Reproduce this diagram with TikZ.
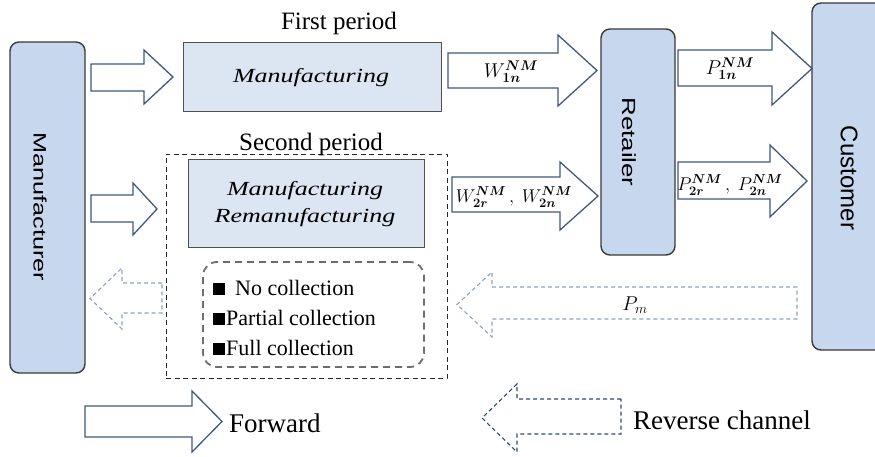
\RequirePackage{fix-cm}
\documentclass[tikz,border=0pt]{standalone}
\usepackage{amsmath}
\usepackage{fontspec}
\usepackage{graphicx}
\setmainfont{Liberation Serif}
\setsansfont{Liberation Sans}
\definecolor{boxfill}{HTML}{C6D7EE}
\definecolor{boxline}{HTML}{3A3A3A}
\definecolor{mffill}{HTML}{DCE6F2}
\definecolor{mfline}{HTML}{505050}
\definecolor{fwline}{HTML}{41597F}
\definecolor{revlight}{HTML}{8EA3BF}
\definecolor{revdark}{HTML}{2F4B75}
\definecolor{collline}{HTML}{6E6E6E}
\newcommand{\setfs}[1]{\fontsize{#1}{#1}\selectfont}
\newcommand{\sqmark}{\rule[0.5pt]{12pt}{12pt}}
% #1 style, #2 x tail, #3 x head base, #4 x tip, #5 y shaft top, #6 y shaft bottom, #7 y head top, #8 y head bottom
\newcommand{\blockarr}[8][]{%
  \draw[#1] (#2,#5) -- (#3,#5) -- (#3,#7) -- (#4,{(#7+#8)/2}) -- (#3,#8) -- (#3,#6) -- (#2,#6) -- cycle;}
\tikzset{
  actor/.style={draw=boxline, fill=boxfill, line width=1.4pt, rounded corners=9pt, inner sep=0pt},
  mfbox/.style={draw=mfline, fill=mffill, line width=1pt, inner sep=0pt},
  fwarrow/.style={draw=fwline, fill=white, line width=1.3pt, line join=miter},
  revarrowl/.style={draw=revlight, line width=1.1pt, dash pattern=on 4pt off 3pt},
  revarrowd/.style={draw=revdark, line width=1.1pt, dash pattern=on 4pt off 3pt},
  lbl/.style={inner sep=0pt},
  mathlbl/.style={inner sep=0pt, font=\setfs{20}},
  pairlbl/.style={inner sep=0pt, font=\setfs{18.5}},
}
\begin{document}
\begin{tikzpicture}[x=1pt,y=-1pt]
\useasboundingbox (0,0) rectangle (875,457);
\clip (0,0) rectangle (875,457);
\fill[white] (0,0) rectangle (875,457);

% actors
\node[actor, minimum width=75pt, minimum height=331pt] (man) at (47.5,207.5) {};
\node[lbl, rotate=-90, font=\sffamily\setfs{18}] (manl) at (40,207) {\scalebox{1.4}[1]{Manufacturer}};
\node[actor, minimum width=74pt, minimum height=226pt] (ret) at (638,142) {};
\node[lbl, rotate=-90, font=\sffamily\setfs{19}] (retl) at (629,142) {\scalebox{1.36}[1]{Retailer}};
\node[actor, minimum width=90pt, minimum height=347pt] (cus) at (857,176.5) {};
\node[lbl, rotate=-90, font=\sffamily\setfs{24}] (cusl) at (849,178) {Customer};

% second period dashed frame
\node[draw=black!85, line width=0.9pt, dash pattern=on 5pt off 3.5pt, minimum width=281pt, minimum height=224pt, inner sep=0pt] (sp) at (306.5,266) {};
\node[lbl, anchor=base, font=\setfs{25}] (spl) at (311,151) {Second period};
\node[lbl, anchor=base, font=\setfs{25}] (fpl) at (339,30) {First period};

% manufacturing boxes
\node[mfbox, minimum width=258pt, minimum height=69pt] (mf1) at (312,77.5) {};
\node[lbl, font=\rmfamily\itshape\setfs{20}] (mf1t) at (311,78) {\scalebox{1.3}[1]{Manufacturing}};
\node[mfbox, minimum width=236pt, minimum height=87pt] (mf2) at (306,203.5) {};
\node[lbl, align=center, font=\rmfamily\itshape\fontsize{20}{27}\selectfont] (mf2t) at (305,204) {\scalebox{1.3}[1]{Manufacturing}\\\scalebox{1.3}[1]{Remanufacturing}};

% collection box
\node[draw=collline, line width=1.8pt, dash pattern=on 7pt off 5pt, rounded corners=14pt, minimum width=221pt, minimum height=105pt, inner sep=0pt] (coll) at (313.5,314.5) {};
\node[lbl, anchor=base west, font=\rmfamily\setfs{22}] (c1) at (213,295) {\sqmark\hspace{10pt}No collection};
\node[lbl, anchor=base west, font=\rmfamily\setfs{22}] (c2) at (213,325) {\sqmark\hspace{1pt}Partial collection};
\node[lbl, anchor=base west, font=\rmfamily\setfs{22}] (c3) at (213,355) {\sqmark\hspace{1pt}Full collection};

% forward arrows
\blockarr[fwarrow]{91}{144}{173}{64}{91}{50}{104}
\blockarr[fwarrow]{91}{133}{157}{195}{222}{183}{235}
\blockarr[fwarrow]{448}{558}{597}{53}{88}{35}{106}
\blockarr[fwarrow]{452}{560}{598}{177}{212}{162}{230}
\blockarr[fwarrow]{678}{772}{812}{50}{86}{32}{105}
\blockarr[fwarrow]{678}{770}{807}{162}{199}{145}{217}

% reverse arrows
\blockarr[revarrowl]{797}{492}{457}{287}{319}{272}{337}
\blockarr[revarrowl]{162}{122}{90}{283}{313}{268}{329}

% arrow labels
\node[mathlbl] (w1) at (511,72) {$W^{\boldsymbol{NM}}_{\boldsymbol{1n}}$};
\node[mathlbl] (p1) at (730,69) {$P^{\boldsymbol{NM}}_{\boldsymbol{1n}}$};
\node[pairlbl] (w2) at (514,197) {$W^{\boldsymbol{NM}}_{\boldsymbol{2r}}\,,\ W^{\boldsymbol{NM}}_{\boldsymbol{2n}}$};
\node[pairlbl] (p2) at (730,185) {$P^{\boldsymbol{NM}}_{\boldsymbol{2r}}\,,\ P^{\boldsymbol{NM}}_{\boldsymbol{2n}}$};
\node[mathlbl] (pm) at (635,305) {$P_m$};

% legend
\blockarr[fwarrow]{85}{192}{222}{406}{437}{391}{452}
\node[lbl, anchor=base west, font=\setfs{27}] (fw) at (229,432) {Forward};
\blockarr[revarrowd]{621}{517}{482}{399}{434}{384}{452}
\node[lbl, anchor=base west, font=\setfs{27}] (rc) at (633,429) {Reverse channel};
\end{tikzpicture}
\end{document}
